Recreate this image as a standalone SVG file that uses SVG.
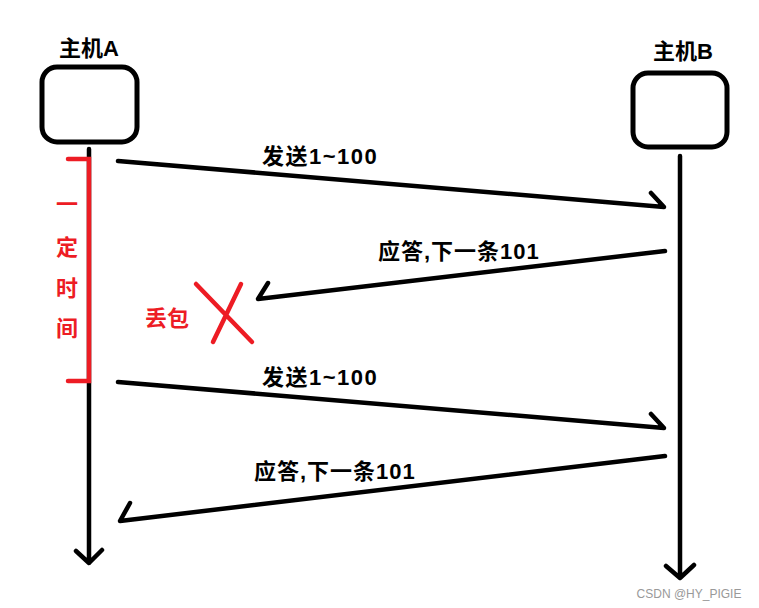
<svg xmlns="http://www.w3.org/2000/svg" width="759" height="608" viewBox="0 0 759 608">
<style>
.t{font-family:"Liberation Sans","Noto Sans CJK SC",sans-serif;font-weight:bold;font-size:22px;fill:#000}
.s{letter-spacing:1px}
.r{fill:#ed1c24;font-size:22px}
.ln{stroke:#000;stroke-width:4.5;fill:none;stroke-linecap:round;stroke-linejoin:round}
.red{stroke:#ed1c24;stroke-width:4.5;fill:none;stroke-linecap:round}
.box{fill:#fff;stroke:#000;stroke-width:5}
</style>
<rect width="759" height="608" fill="#fff"/>
<g id="hostA">
<rect class="box" x="42" y="67" width="95" height="75" rx="15"/>
<text class="t" x="89" y="56" text-anchor="middle">主机A</text>
</g>
<g id="hostB">
<rect class="box" x="633" y="73" width="94" height="74" rx="15"/>
<text class="t" x="683" y="59" text-anchor="middle">主机B</text>
</g>
<g id="connectors">
<path class="ln" d="M89,149 V563 M76,551 L89,563 L102,550"/>
<path class="ln" d="M680,156 V578 M666,566 L680,578 L694,565"/>
<path class="ln" d="M118,161 L664,207 L651,193"/>
<path class="ln" d="M665,251 L258,299 L268,283"/>
<path class="ln" d="M118,382 L664,428 L651,414"/>
<path class="ln" d="M665,456 L120,521 L130,503"/>
</g>
<g id="timer">
<path class="red" d="M68,159 H89 V381 H68"/>
<text class="t r" x="67" y="212" text-anchor="middle">一</text>
<text class="t r" x="67" y="255" text-anchor="middle">定</text>
<text class="t r" x="67" y="296" text-anchor="middle">时</text>
<text class="t r" x="67" y="336" text-anchor="middle">间</text>
</g>
<g id="loss">
<path class="red" d="M196,284 L252,342 M241,284 L213,342"/>
<text class="t r" x="167" y="326" text-anchor="middle">丢包</text>
</g>
<g id="labels">
<text class="t s" x="262" y="164" style="letter-spacing:1.5px">发送1~100</text>
<text class="t s" x="378" y="259">应答,下一条101</text>
<text class="t s" x="262" y="385" style="letter-spacing:1.5px">发送1~100</text>
<text class="t s" x="254" y="479">应答,下一条101</text>
</g>
<text x="689" y="598" text-anchor="middle" font-family="Liberation Sans,Arial,sans-serif" font-size="12" fill="#999">CSDN @HY_PIGIE</text>
</svg>
